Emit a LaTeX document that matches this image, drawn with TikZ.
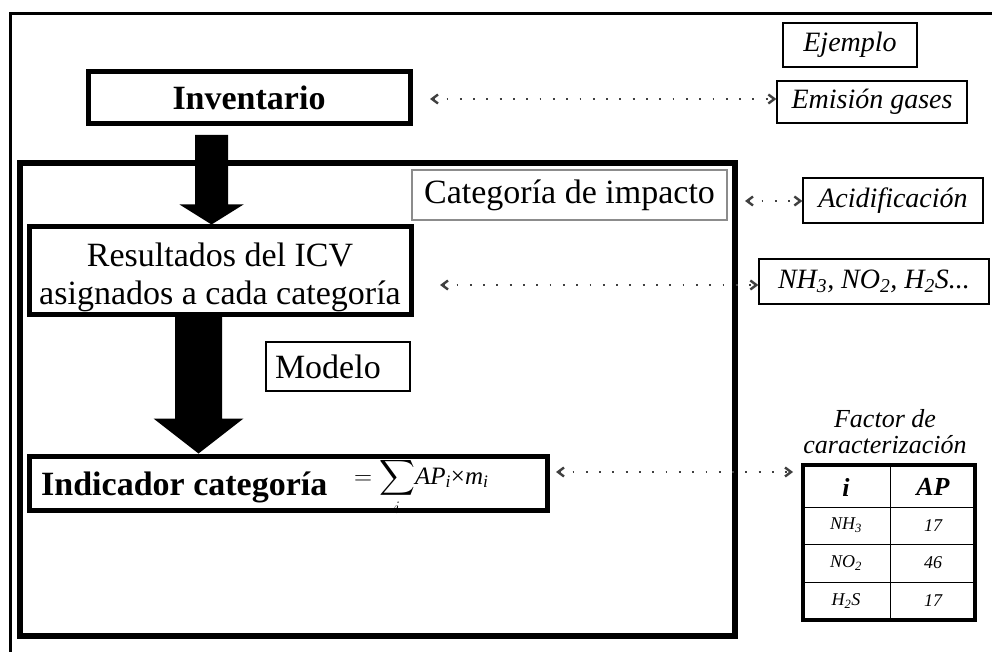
\RequirePackage{fix-cm}
\documentclass[tikz,border=0pt]{standalone}
\usepackage{amsmath}
\usepackage{fontspec}
\setmainfont{Liberation Serif}
\usetikzlibrary{calc,arrows.meta}
\def\blockarrow[#1:#2:#3](#4)(#5){\fill ($(#4)+(-#1,0)$) -- ($(#4)+(#1,0)$) -- ($(#5)+(#1,-#3)$) -- ($(#5)+(#2,-#3)$) -- (#5) -- ($(#5)+(-#2,-#3)$) -- ($(#5)+(-#1,-#3)$) -- cycle;}
\tikzset{
	thickbox/.style={draw, line width=5pt, inner sep=0pt},
	thinbox/.style={draw, line width=1.3pt, inner sep=0pt},
	bigfont/.style={font=\fontsize{34}{38}\selectfont},
	itfont/.style={font=\itshape\fontsize{28}{32}\selectfont},
	link/.style={<->, >={Straight Barb[length=6pt,width=9pt,line width=2.4pt]}, line width=1.8pt, dash pattern=on 1.8pt off 11.5pt, black!75}
}

\begin{document}
\begin{tikzpicture}[x=1pt,y=-1pt]
		%%%%% START %%%%%
		\useasboundingbox (0,0) rectangle (992,652);
		\fill[white] (0,0) rectangle (992,652);
		
		\draw[line width=3pt] (10,652) -- (10,14) -- (992,14);
		\draw[line width=6pt] (20,163) rectangle (735,636);
		
		\node[thickbox, font=\bfseries\fontsize{34}{38}\selectfont, minimum width=322pt, minimum height=52pt] (inv) at (249,98) {Inventario};
		\node[thickbox, bigfont, align=center, minimum width=382pt, minimum height=87pt] (res) at (220,270.5) {\rule{0pt}{38pt}Resultados del ICV\\asignados a cada categoría};
		\node[thinbox, bigfont, draw=black!45, minimum width=315pt, minimum height=50pt] (cat) at (569.5,195) {Categoría de impacto};
		\node[thinbox, bigfont, minimum width=144pt, minimum height=49pt, text width=126pt, inner xsep=9pt, align=left] (mod) at (338,366.5) {Modelo};
		\node[thickbox, minimum width=518pt, minimum height=54pt] (ind) at (288,483) {};
		\node[anchor=base west, inner sep=0pt, font=\bfseries\fontsize{34}{38}\selectfont] (indtxt) at (41,495) {Indicador categoría};
		\node[anchor=base west, inner sep=0pt, font=\fontsize{25}{28}\selectfont] (formula) at (354,484) {$=\displaystyle\sum_i$\textit{AP\textsubscript{i}}×\textit{m\textsubscript{i}}};
		
		\coordinate (a1s) at ([xshift=-37.5pt,yshift=-8.5pt]inv.south);
		\coordinate (a1e) at ([xshift=-8.5pt]res.north);
		\blockarrow[16.5:32:20](a1s)(a1e)
		\coordinate (a2s) at ([xshift=-21.5pt]res.south);
		\coordinate (a2e) at ([xshift=-89.5pt]ind.north);
		\blockarrow[23.5:45:35](a2s)(a2e)
		
		\node[thinbox, itfont, minimum width=134pt, minimum height=44pt] (ej) at (850,45) {Ejemplo};
		\node[thinbox, itfont, minimum width=190pt, minimum height=42pt] (emis) at (872,102) {Emisión gases};
		\node[thinbox, itfont, minimum width=180pt, minimum height=45pt] (acid) at (893,200.5) {Acidificación};
		\node[thinbox, itfont, minimum width=230pt, minimum height=45pt] (nh) at (874,281.5) {NH\textsubscript{3}, NO\textsubscript{2}, H\textsubscript{2}S...};
		\node[align=center, font=\itshape\fontsize{26}{26}\selectfont] (fac) at (885,432) {Factor de\\caracterización};
		
		\node[draw, line width=4pt, minimum width=172pt, minimum height=155pt, inner sep=0pt] (tab) at (889,542.5) {};
		\draw[line width=1pt] (890,465) -- (890,620);
		\foreach \y in {507,544,582}
			\draw[line width=1pt] (803,\y) -- (975,\y);
		\node[font=\bfseries\itshape\fontsize{26}{26}\selectfont] (hi) at (846,487) {i};
		\node[font=\bfseries\itshape\fontsize{26}{26}\selectfont] (hap) at (933,487) {AP};
		\foreach \n/\y/\g/\v in {a/525.5/NH\textsubscript{3}/17, b/563/NO\textsubscript{2}/46, c/601/H\textsubscript{2}S/17}{
			\node[font=\itshape\fontsize{18}{18}\selectfont] (g\n) at (846,\y) {\g};
			\node[font=\itshape\fontsize{18}{18}\selectfont] (v\n) at (933,\y) {\v};
		}
		
		\coordinate (lk1) at (430,99);
		\draw[link] (lk1) -- (lk1 -| emis.west);
		\coordinate (lk2) at (745,201);
		\draw[link] (lk2) -- (lk2 -| acid.west);
		\coordinate (lk3) at (440,285);
		\draw[link] (lk3) -- (lk3 -| nh.west);
		\coordinate (lk4) at (556,472);
		\draw[link, shorten >=8pt] (lk4) -- (lk4 -| tab.west);
		
		%%%%% END %%%%%
\end{tikzpicture}
\end{document}
